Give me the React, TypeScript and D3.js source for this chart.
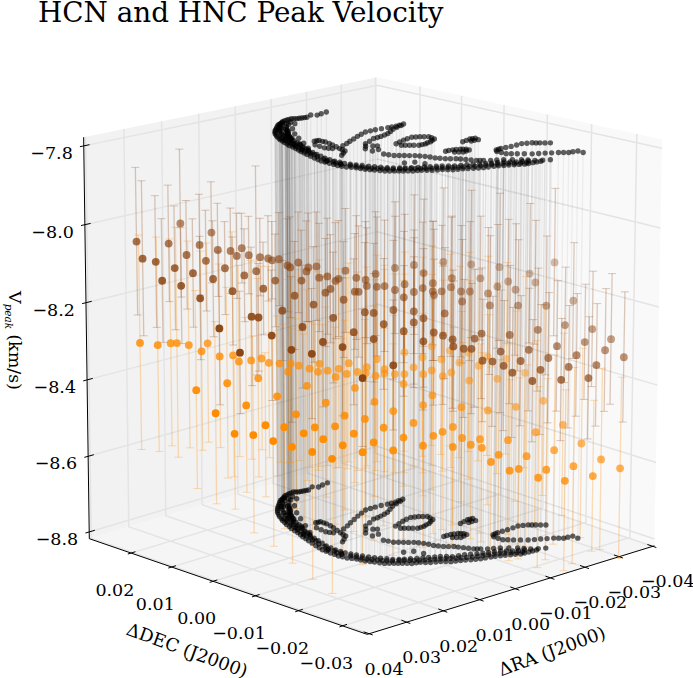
import { useRef, useEffect } from 'react'
import * as d3 from 'd3'

const raTicks = [0.04, 0.03, 0.02, 0.01, 0, -0.01, -0.02, -0.03, -0.04]
const decTicks = [0.02, 0.01, 0, -0.01, -0.02, -0.03]
const vTicks = [-7.8, -8.0, -8.2, -8.4, -8.6, -8.8]

const vTop = -7.8
const vBottom = -8.8

// [dRA, dDEC] of the black positions, drawn on both velocity planes
const blackPoints: number[][] = [
  [-.0150,.0214],[-.0132,.0211],[-.0117,.0208],[-.0108,.0216],[-.0088,.0208],[-.0076,.0210],[-.0064,.0212],[-.0056,.0218],
  [-.0041,.0216],[-.0026,.0213],[-.0009,.0204],[.0003,.0199],[.0023,.0185],[.0043,.0171],[.0061,.0155],[.0076,.0137],
  [.0089,.0118],[.0100,.0098],[.0111,.0077],[.0119,.0054],[.0129,.0033],[.0138,.0011],[.0149,-.0016],[.0156,-.0038],
  [.0158,-.0059],[.0159,-.0079],[.0155,-.0096],[.0146,-.0111],[.0142,-.0128],[.0133,-.0142],[.0124,-.0158],[.0110,-.0168],
  [.0098,-.0178],[.0085,-.0189],[.0068,-.0195],[.0054,-.0207],[.0035,-.0215],[.0021,-.0227],[.0002,-.0234],[-.0016,-.0243],
  [-.0034,-.0251],[-.0057,-.0256],[-.0076,-.0263],[-.0095,-.0271],[-.0113,-.0280],[-.0134,-.0282],[-.0154,-.0284],
  [-.0082,.0209],[-.0070,.0211],[-.0060,.0215],[-.0048,.0217],[-.0033,.0214],[-.0017,.0208],[-.0003,.0201],[.0013,.0192],
  [.0033,.0178],[.0052,.0163],[.0068,.0146],[.0082,.0127],[.0094,.0108],[.0105,.0087],[.0115,.0065],[.0124,.0043],
  [.0133,.0022],[.0143,-.0002],[.0152,-.0027],[.0157,-.0048],[.0158,-.0069],[.0157,-.0087],[.0150,-.0103],[.0144,-.0119],
  [.0137,-.0135],[.0128,-.0150],[.0117,-.0163],[.0104,-.0173],[.0091,-.0183],[.0076,-.0192],[.0061,-.0201],[.0044,-.0211],
  [.0028,-.0221],[.0011,-.0230],[-.0007,-.0238],[-.0025,-.0247],[-.0045,-.0253],[-.0066,-.0259],[-.0085,-.0267],[-.0104,-.0275],
  [-.0123,-.0281],[-.0144,-.0283],
  [-.0033,.0200],[0,.0181],[.0026,.0157],[.0051,.0131],[.0069,.0109],[.0083,.0083],[.0100,.0053],[.0114,.0028],
  [.0124,0],[.0134,-.0028],[.0138,-.0054],[.0137,-.0076],[.0129,-.0096],[.0120,-.0117],[.0108,-.0135],[.0095,-.0153],
  [.0078,-.0166],[.0056,-.0177],[.0035,-.0187],[.0014,-.0197],[-.0003,-.0211],[-.0029,-.0218],[-.0051,-.0229],[-.0072,-.0239],
  [-.0098,-.0246],[-.0115,-.0260],[-.0137,-.0270],
  [-.0016,.0190],[.0013,.0169],[.0038,.0144],[.0060,.0120],[.0076,.0096],[.0091,.0068],[.0107,.0040],[.0119,.0014],
  [.0129,-.0014],[.0136,-.0041],[.0137,-.0065],[.0133,-.0086],[.0124,-.0106],[.0114,-.0126],[.0101,-.0144],[.0086,-.0160],
  [.0067,-.0171],[.0045,-.0182],[.0024,-.0192],[.0005,-.0204],[-.0016,-.0215],[-.0040,-.0223],[-.0062,-.0234],[-.0085,-.0242],
  [-.0106,-.0253],[-.0126,-.0265],
  [.0150,-.0045],[.0148,-.0065],[.0148,-.0077],[.0137,-.0103],[.0131,-.0122],[.0120,-.0138],[.0109,-.0151],[.0091,-.0164],
  [.0075,-.0176],[.0060,-.0186],[.0043,-.0197],[.0025,-.0206],[.0008,-.0216],[-.0010,-.0225],[-.0030,-.0235],[-.0052,-.0242],
  [-.0075,-.0250],[-.0095,-.0258],[-.0115,-.0270],
  [.0143,-.0055],[.0143,-.0072],[.0141,-.0093],[.0134,-.0113],[.0126,-.0130],[.0115,-.0145],[.0102,-.0158],[.0084,-.0170],
  [.0068,-.0181],[.0052,-.0192],[.0034,-.0201],[.0016,-.0211],[-.0001,-.0221],[-.0020,-.0230],[-.0041,-.0239],[-.0063,-.0246],
  [-.0085,-.0254],[-.0105,-.0264],[-.0125,-.0275],
  [-.0003,.0194],[.0026,.0171],[.0052,.0147],[.0073,.0119],[.0084,.0100],[.0099,.0075],[.0115,.0044],[.0128,.0010],
  [-.0030,.0187],[.0005,.0162],[.0033,.0132],[.0054,.0104],[.0077,.0072],
  [-.0015,.0205],[.0010,.0188],[.0036,.0167],[.0056,.0145],[.0080,.0115],[.0092,.0089],[.0106,.0066],[.0121,.0031],
  [-.0018,.0197],[.0018,.0168],[.0043,.0140],[.0064,.0112],[.0086,.0074],[.0100,.0041],
  [.0040,.0148],[.0047,.0139],[.0060,.0130],[.0065,.0122],[.0072,.0110],[.0078,.0100],[.0090,.0082],[.0095,.0065],
  [.0105,.0050],[.0110,.0033],[.0022,.0160],[.0030,.0150],[.0015,.0180],[.0028,.0175],[.0042,.0160],[.0056,.0125],
  [.0062,.0135],[.0078,.0124],[.0086,.0108],[.0094,.0092],[.0102,.0076],[.0109,.0058],[.0118,.0040],[.0122,.0020],
  [.0128,.0002],[.0136,-.0012],[.0140,-.0030],[.0144,-.0042],
  [.0049,.0071],[.0038,.0069],[.0038,.0054],[.0045,.0031],[.0057,.0004],[.0063,-.0014],[.0093,-.0032],[.0070,.0051],[.0074,.0025],[.0067,.0012],
  [.0043,.0070],[.0038,.0061],[.0041,.0042],[.0051,.0017],[.0060,-.0005],[.0078,-.0023],[.0072,.0038],[.0071,.0018],
  [.0035,.0015],[-.0002,.0030],[-.0043,.0047],[-.0082,.0061],[-.0110,.0061],[-.0142,.0058],[-.0163,.0056],[-.0188,.0059],
  [.0016,.0022],[-.0022,.0038],[-.0062,.0054],[-.0096,.0061],[-.0126,.0060],[-.0152,.0057],[-.0175,.0058],
  [.0021,-.0026],[-.0010,0],[-.0053,.0017],[-.0077,.0020],[-.0105,.0027],[-.0140,.0044],[-.0175,.0054],[-.0007,-.0020],[-.0014,-.0025],[.0024,-.0045],[.0007,-.0045],
  [.0005,-.0013],[-.0031,.0008],[-.0065,.0018],[-.0091,.0023],[-.0122,.0035],[-.0157,.0049],
  [.0026,-.0073],[.0020,-.0092],[.0006,-.0104],[-.0009,-.0116],[-.0019,-.0131],[-.0024,-.0150],[-.0034,-.0165],[-.0049,-.0177],[-.0058,-.0192],[-.0068,-.0208],[-.0078,-.0216],
  [.0023,-.0082],[.0013,-.0098],[-.0001,-.0110],[-.0014,-.0123],[-.0022,-.0140],[-.0029,-.0157],[-.0041,-.0171],[-.0053,-.0184],[-.0063,-.0200],[-.0073,-.0212],
  [.0049,-.0140],[.0030,-.0148],[.0025,-.0167],
  [-.0054,-.0035],[-.0087,-.0025],[-.0116,-.0020],[-.0132,-.0026],[-.0145,-.0036],[-.0139,-.0054],[-.0116,-.0064],[-.0095,-.0069],[-.0077,-.0069],[-.0064,-.0058],[-.0052,-.0049],
  [-.0070,-.0030],[-.0101,-.0022],[-.0124,-.0023],[-.0138,-.0031],[-.0142,-.0045],[-.0127,-.0059],[-.0105,-.0066],[-.0086,-.0069],[-.0070,-.0063],[-.0058,-.0053],
  [-.0162,-.0101],[-.0190,-.0095],[-.0203,-.0097],[-.0198,-.0108],[-.0179,-.0107],[-.0176,-.0098],[-.0196,-.0096],[-.0188,-.0107],
  [-.0079,-.0129],[-.0098,-.0130],[-.0113,-.0135],[-.0121,-.0142],[-.0121,-.0149],[-.0099,-.0153],[-.0087,-.0143],
  [-.0088,-.0129],[-.0105,-.0132],[-.0117,-.0138],[-.0110,-.0151],[-.0093,-.0148],
  [-.0159,-.0180],[-.0175,-.0178],[-.0203,-.0179],[-.0236,-.0177],[-.0256,-.0185],[-.0267,-.0194],[-.0282,-.0206],
  [-.0167,-.0179],[-.0189,-.0178],[-.0220,-.0178],[-.0246,-.0181],[-.0261,-.0190],[-.0274,-.0200],
  [-.0151,-.0188],[-.0151,-.0209],[-.0166,-.0222],[-.0187,-.0239],[-.0210,-.0250],[-.0233,-.0262],[-.0247,-.0274],[-.0270,-.0277],[-.0268,-.0290],
  [-.0151,-.0198],[-.0158,-.0215],[-.0176,-.0230],[-.0198,-.0245],[-.0221,-.0256],[-.0240,-.0268],[-.0258,-.0275],
  [-.0088,-.0224],[-.0111,-.0235],[-.0136,-.0255],[-.0150,-.0274],[-.0176,-.0288],
  [-.0099,-.0229],[-.0123,-.0245],[-.0143,-.0264],[-.0163,-.0281],
]

// [dRA, dDEC, Vpeak, error]
const hcnPoints: number[][] = [
  [.0337,.0248,-8.044,.19],[.0329,.0241,-8.088,.2],[.0310,.0226,-8.096,.17],[.0301,.0219,-8.145,.16],[.0291,.0211,-8.049,.15],
  [.0283,.0204,-8.112,.16],[.0274,.0197,-7.997,.19],[.0274,.0197,-8.158,.15],[.0266,.0190,-8.078,.14],[.0257,.0183,-8.125,.14],
  [.0247,.0175,-8.052,.13],[.0238,.0168,-8.093,.13],[.0247,.0175,-8.190,.16],[.0230,.0161,-8.020,.13],[.0228,.0160,-8.140,.15],
  [.0221,.0154,-8.065,.12],[.0211,.0146,-8.112,.12],[.0203,.0139,-8.067,.11],[.0201,.0137,-8.171,.14],[.0220,.0153,-8.268,.2],
  [.0194,.0132,-8.080,.11],[.0187,.0126,-8.060,.09],[.0184,.0123,-8.130,.12],[.0177,.0118,-8.078,.1],[.0167,.0109,-8.119,.27],
  [.0157,.0101,-8.164,.12],[.0174,.0115,-8.237,.18],[.0164,.0107,-8.239,.14],[.0161,.0105,-8.083,.1],[.0150,.0095,-8.086,.11],
  [.0144,.0091,-8.091,.1],[.0134,.0083,-8.088,.12],[.0140,.0087,-8.143,.12],[.0145,.0092,-8.286,.17],[.0130,.0079,-8.221,.13],
  [.0122,.0073,-8.104,.12],[.0118,.0070,-8.109,.13],[.0107,.0060,-8.096,.13],[.0112,.0065,-8.182,.14],[.0102,.0057,-8.143,.13],
  [.0095,.0051,-8.119,.13],[.0092,.0049,-8.109,.14],[.0081,.0039,-8.106,.14],[.0077,.0036,-8.135,.14],[.0065,.0027,-8.132,.15],
  [.0054,.0017,-8.143,.15],[.0049,.0014,-8.138,.15],[.0068,.0029,-8.174,.14],[.0061,.0023,-8.164,.14],[.0039,.0006,-8.117,.16],
  [.0042,.0008,-8.192,.15],[.0085,.0043,-8.205,.15],[.0057,.0020,-8.239,.17],[.0101,.0056,-8.263,.16],[.0072,.0032,-8.302,.17],
  [.0117,.0069,-8.323,.19],[.0088,.0045,-8.333,.17],[.0044,.0009,-8.315,.18],[.0191,.0129,-8.331,.16],
  [.0024,-.0007,-8.135,.16],[.0011,-.0018,-8.140,.15],[.0021,-.0010,-8.171,.17],[.0026,-.0005,-8.171,.15],[.0009,-.0019,-8.156,.15],
  [-.0004,-.0029,-8.125,.16],[-.0005,-.0031,-8.158,.18],[-.0016,-.0040,-8.156,.17],[-.0031,-.0052,-8.109,.17],[-.0031,-.0052,-8.166,.19],
  [-.0045,-.0063,-8.151,.18],[-.0044,-.0062,-8.185,.17],[-.0058,-.0074,-8.101,.18],[-.0058,-.0074,-8.171,.16],[-.0072,-.0085,-8.122,.19],
  [-.0071,-.0084,-8.161,.17],[-.0085,-.0096,-8.148,.16],[-.0085,-.0096,-8.169,.18],[-.0087,-.0097,-8.179,.17],[-.0100,-.0108,-8.093,.19],
  [-.0098,-.0106,-8.169,.17],[-.0112,-.0118,-8.135,.16],[-.0111,-.0117,-8.158,.18],[-.0140,-.0140,-8.099,.19],[-.0153,-.0151,-8.135,.16],
  [-.0125,-.0129,-8.169,.17],[-.0138,-.0139,-8.169,.18],[-.0127,-.0130,-8.195,.16],[-.0164,-.0160,-8.174,.17],[-.0177,-.0171,-8.156,.16],
  [-.0167,-.0162,-8.205,.18],[-.0180,-.0173,-8.106,.19],[-.0193,-.0183,-8.143,.16],[-.0203,-.0192,-8.164,.17],[-.0207,-.0195,-8.205,.17],
  [-.0223,-.0208,-8.122,.18],[-.0231,-.0215,-8.145,.16],[-.0247,-.0228,-8.205,.18],[-.0258,-.0237,-8.093,.19],[-.0286,-.0259,-8.192,.15],
  [-.0274,-.0250,-8.255,.15],[-.0236,-.0218,-8.268,.16],[-.0313,-.0282,-8.265,.15],[-.0303,-.0273,-8.299,.15],[-.0340,-.0304,-8.291,.17],
  [-.0263,-.0241,-8.310,.17],[-.0332,-.0297,-8.320,.16],[-.0223,-.0208,-8.320,.16],[-.0291,-.0264,-8.333,.16],[-.0359,-.0319,-8.338,.17],
  [-.0320,-.0287,-8.359,.16],[-.0251,-.0231,-8.341,.17],[-.0280,-.0255,-8.364,.16],[-.0211,-.0199,-8.349,.17],[-.0195,-.0186,-8.281,.18],
  [-.0155,-.0153,-8.278,.17],[-.0183,-.0175,-8.325,.16],[-.0240,-.0222,-8.372,.17],[-.0309,-.0278,-8.393,.16],[-.0270,-.0246,-8.398,.16],
  [-.0200,-.0189,-8.380,.17],[-.0228,-.0213,-8.401,.16],[-.0187,-.0179,-8.362,.17],[-.0171,-.0166,-8.351,.17],[-.0157,-.0154,-8.349,.16],
  [-.0145,-.0145,-8.291,.18],[-.0141,-.0141,-8.318,.17],[-.0130,-.0132,-8.318,.18],[-.0115,-.0120,-8.312,.17],[-.0114,-.0119,-8.294,.18],
  [-.0100,-.0108,-8.284,.18],[-.0087,-.0097,-8.276,.19],[-.0102,-.0110,-8.226,.17],[-.0072,-.0085,-8.239,.18],[-.0058,-.0074,-8.221,.19],
  [-.0058,-.0074,-8.250,.17],[-.0072,-.0085,-8.299,.18],[-.0044,-.0062,-8.273,.17],[-.0029,-.0050,-8.218,.18],[-.0015,-.0039,-8.255,.17],
  [-.0001,-.0027,-8.226,.18],[.0012,-.0017,-8.224,.18],[.0028,-.0004,-8.276,.19],[-.0001,-.0027,-8.294,.17],[-.0029,-.0050,-8.362,.17],[.0015,-.0014,-8.396,.18],
]

const hncPoints: number[][] = [
  [.0334,.0246,-8.307,.28],[.0309,.0225,-8.312,.28],[.0290,.0210,-8.307,.27],[.0281,.0203,-8.307,.3],[.0264,.0189,-8.312,.27],
  [.0237,.0167,-8.307,.26],[.0246,.0174,-8.328,.26],[.0220,.0153,-8.341,.24],[.0201,.0137,-8.338,.32],[.0193,.0130,-8.354,.25],
  [.0175,.0116,-8.351,.26],[.0160,.0104,-8.346,.24],[.0150,.0095,-8.357,.25],[.0134,.0083,-8.359,.26],[.0118,.0070,-8.359,.26],
  [.0107,.0060,-8.364,.25],[.0091,.0048,-8.372,.26],[.0077,.0036,-8.359,.27],[.0122,.0073,-8.380,.24],[.0079,.0038,-8.380,.26],
  [.0065,.0027,-8.377,.25],[.0049,.0014,-8.372,.26],[.0035,.0002,-8.357,.26],[.0054,.0017,-8.393,.24],[.0038,.0004,-8.385,.25],
  [.0022,-.0008,-8.380,.26],[.0009,-.0019,-8.367,.26],[.0011,-.0018,-8.383,.25],[-.0004,-.0029,-8.390,.25],[-.0005,-.0031,-8.346,.27],
  [.0254,.0181,-8.430,.26],[.0210,.0144,-8.411,.25],[.0165,.0108,-8.398,.26],[.0138,.0086,-8.445,.21],[.0095,.0051,-8.417,.25],
  [.0026,-.0005,-8.422,.25],[.0068,.0029,-8.461,.25],[-.0002,-.0028,-8.458,.25],[.0227,.0158,-8.490,.24],[.0183,.0122,-8.469,.23],
  [.0111,.0064,-8.492,.25],[.0041,.0007,-8.495,.25],[.0012,-.0017,-8.503,.26],[.0155,.0100,-8.521,.19],[.0128,.0078,-8.526,.27],
  [.0084,.0042,-8.526,.27],[.0055,.0018,-8.523,.26],[.0200,.0136,-8.544,.2],[.0173,.0114,-8.547,.26],[.0100,.0055,-8.542,.26],
  [.0028,-.0004,-8.542,.26],[.0144,.0091,-8.563,.28],[.0072,.0032,-8.557,.3],[-.0001,-.0027,-8.565,.26],[.0117,.0069,-8.578,.31],
  [.0044,.0009,-8.573,.28],[.0088,.0045,-8.591,.34],[.0015,-.0014,-8.591,.3],[.0059,.0022,-8.609,.36],
  [-.0016,-.0040,-8.383,.27],[-.0031,-.0052,-8.385,.26],[-.0045,-.0063,-8.385,.26],[-.0072,-.0085,-8.385,.26],[-.0100,-.0108,-8.390,.25],
  [-.0138,-.0139,-8.401,.26],[-.0178,-.0172,-8.396,.25],[-.0044,-.0062,-8.411,.27],[-.0244,-.0226,-8.453,.25],[-.0085,-.0096,-8.440,.25],
  [-.0029,-.0050,-8.482,.25],[-.0072,-.0085,-8.466,.24],[-.0127,-.0130,-8.471,.25],[-.0165,-.0161,-8.479,.25],[-.0205,-.0194,-8.469,.25],
  [-.0273,-.0249,-8.516,.24],[-.0058,-.0074,-8.513,.25],[-.0015,-.0039,-8.526,.26],[-.0115,-.0120,-8.523,.26],[-.0234,-.0217,-8.536,.24],
  [-.0100,-.0108,-8.536,.26],[-.0087,-.0097,-8.547,.26],[-.0044,-.0062,-8.552,.27],[-.0128,-.0131,-8.552,.25],[-.0154,-.0152,-8.555,.25],
  [-.0194,-.0185,-8.557,.25],[-.0072,-.0085,-8.573,.27],[-.0029,-.0050,-8.586,.28],[-.0115,-.0120,-8.576,.26],[-.0141,-.0141,-8.570,.25],
  [-.0157,-.0154,-8.578,.25],[-.0300,-.0271,-8.565,.25],[-.0261,-.0239,-8.583,.25],[-.0181,-.0174,-8.596,.25],[-.0221,-.0207,-8.599,.24],
  [-.0170,-.0165,-8.615,.25],[-.0329,-.0294,-8.607,.24],[-.0197,-.0187,-8.638,.24],[-.0210,-.0198,-8.633,.24],[-.0250,-.0230,-8.635,.24],
  [-.0289,-.0262,-8.625,.26],[-.0356,-.0317,-8.630,.24],[-.0238,-.0221,-8.656,.24],[-.0317,-.0285,-8.651,.2],[-.0277,-.0252,-8.664,.24],
  [-.0084,-.0095,-8.312,.26],[-.0110,-.0116,-8.323,.25],[-.0137,-.0138,-8.328,.26],[-.0045,-.0063,-8.328,.26],[-.0071,-.0084,-8.341,.26],
  [-.0098,-.0106,-8.346,.25],[-.0124,-.0127,-8.354,.25],[-.0151,-.0150,-8.362,.25],[-.0164,-.0160,-8.338,.26],[-.0191,-.0182,-8.344,.25],
  [-.0058,-.0074,-8.367,.26],[-.0084,-.0095,-8.375,.25],[-.0112,-.0118,-8.380,.25],[-.0016,-.0040,-8.372,.27],[-.0218,-.0204,-8.380,.25],
]

const xNorm = d3.scaleLinear().domain([0.0405, -0.0405]).range([0.5, -0.5])
const yNorm = d3.scaleLinear().domain([-0.0355, 0.0305]).range([-0.5, 0.5])
const zNorm = d3.scaleLinear().domain([-8.818, -7.778]).range([-0.5, 0.5])

const raLim = xNorm.domain()
const decLim = yNorm.domain()
const vLim = zNorm.domain()

const elev = (15.5 * Math.PI) / 180
const azim = (-46 * Math.PI) / 180
const dist = 10
const sinE = Math.sin(elev), cosE = Math.cos(elev)
const sinA = Math.sin(azim), cosA = Math.cos(azim)

// perspective view of the unit box, same idea as mplot3d
function project(ra: number, dec: number, v: number): [number, number] {
  const x = xNorm(ra), y = yNorm(dec), z = zNorm(v)
  const depth = cosE * cosA * x + cosE * sinA * y + sinE * z
  const f = 1 / (1 - depth / dist)
  const right = sinA * x - cosA * y
  const up = -sinE * cosA * x - sinE * sinA * y + cosE * z
  return [372.5 + 400 * f * right, 340.5 - 414 * f * up]
}

// the drawn box sits slightly wider and drops a little toward its lower corners
function projectFrame(ra: number, dec: number, v: number): [number, number] {
  const [px, py] = project(ra, dec, v)
  const low = Math.max(0, (py - 140) / 400)
  const side = (px - 372.5) / 283
  const drop = (side > 0 ? 7 * side : -3 * side) * low
  const spread = side < 0 ? 2 * side * low : 0
  return [372.5 + (px - 372.5) * 1.009 + spread, py + drop]
}

const fmt = (d: number) => d.toFixed(2).replace('-', '\u2212')
const serif = "'DejaVu Serif', serif"

export default function App() {
  const svgRef = useRef<SVGSVGElement | null>(null)

  useEffect(() => {
    if (!svgRef.current) return
    const svg = d3.select(svgRef.current)
    svg.selectAll('*').remove()

    const path3 = (pts: [number, number, number][]) => d3.line()(pts.map(p => project(p[0], p[1], p[2])))
    const frame3 = (pts: [number, number, number][]) => d3.line()(pts.map(p => projectFrame(p[0], p[1], p[2])))

    const [raFront, raBack] = raLim
    const [decFront, decLeft] = decLim
    const [vLow, vHigh] = vLim

    // Panes
    const pane = (pts: [number, number, number][], fill: string) =>
      svg.append('path').attr('d', frame3(pts) + 'Z').attr('fill', fill)
    pane([[raFront, decLeft, vLow], [raBack, decLeft, vLow], [raBack, decLeft, vHigh], [raFront, decLeft, vHigh]], '#f2f2f2')
    pane([[raBack, decLeft, vLow], [raBack, decFront, vLow], [raBack, decFront, vHigh], [raBack, decLeft, vHigh]], '#f9f9f9')
    pane([[raFront, decLeft, vLow], [raFront, decFront, vLow], [raBack, decFront, vLow], [raBack, decLeft, vLow]], '#f5f5f5')

    // Grid
    const grid = svg.append('g').attr('fill', 'none').attr('stroke', '#e4e4e4').attr('stroke-width', 1.5)
    raTicks.forEach(t => grid.append('path').attr('d', frame3([[t, decFront, vLow], [t, decLeft, vLow], [t, decLeft, vHigh]])))
    decTicks.forEach(t => grid.append('path').attr('d', frame3([[raFront, t, vLow], [raBack, t, vLow], [raBack, t, vHigh]])))
    vTicks.forEach(t => grid.append('path').attr('d', frame3([[raFront, decLeft, t], [raBack, decLeft, t], [raBack, decFront, t]])))

    // Axes and ticks
    const axes = svg.append('g').attr('fill', 'none').attr('stroke', '#000').attr('stroke-width', 1)
    axes.append('path').attr('d', frame3([[raFront, decLeft, vHigh], [raFront, decLeft, vLow], [raFront, decFront, vLow], [raBack, decFront, vLow]]))
    const label = svg.append('g').attr('font-family', serif).attr('font-size', 17.5).attr('fill', '#000')
    raTicks.forEach(t => {
      axes.append('path').attr('d', frame3([[t, decFront + 0.0012, vLow], [t, decFront - 0.0008, vLow]]))
      const [px, py] = projectFrame(t, decFront, vLow)
      label.append('text').attr('x', px + 15).attr('y', py + 41).attr('text-anchor', 'middle').text(fmt(t))
    })
    decTicks.forEach(t => {
      axes.append('path').attr('d', frame3([[raFront - 0.0012, t, vLow], [raFront + 0.0008, t, vLow]]))
      const [px, py] = projectFrame(raFront, t, vLow)
      label.append('text').attr('x', px - 16).attr('y', py + 43).attr('text-anchor', 'middle').text(fmt(t))
    })
    vTicks.forEach(t => {
      axes.append('path').attr('d', frame3([[raFront - 0.0015, decLeft, t], [raFront + 0.001, decLeft, t]]))
      const [px, py] = projectFrame(raFront, decLeft, t)
      label.append('text').attr('x', px - 11).attr('y', py + 13).attr('text-anchor', 'end').text(t.toFixed(1).replace('-', '\u2212'))
    })

    // Titles
    svg.append('text').attr('x', 38).attr('y', 22).attr('font-family', serif).attr('font-size', 27.8).text('HCN and HNC Peak Velocity')
    const axisLabel = svg.append('g').attr('font-family', serif).attr('font-size', 18).attr('text-anchor', 'middle')
    axisLabel.append('text').attr('transform', 'translate(554,657) rotate(-20)').text('\u0394RA (J2000)')
    axisLabel.append('text').attr('transform', 'translate(185,656) rotate(20)').text('\u0394DEC (J2000)')
    const vLabel = svg.append('text').attr('transform', 'translate(9,291) rotate(90)').attr('font-family', serif).attr('font-size', 17.5)
    vLabel.append('tspan').text('V')
    vLabel.append('tspan').attr('font-size', 10.5).attr('font-style', 'italic').attr('dy', 4).text('peak')
    vLabel.append('tspan').attr('dy', -4).attr('dx', 5).text('(km/s)')

    // Vertical lines joining the two black planes
    svg.append('g').attr('stroke', '#000').attr('stroke-width', 1.4).attr('stroke-opacity', 0.05)
      .selectAll('path').data(blackPoints).join('path')
      .attr('d', d => path3([[d[0], d[1], vTop], [d[0], d[1], vBottom]]))

    // Error bars
    const errorBars = (points: number[][], color: string) => {
      const g = svg.append('g').attr('stroke', color).attr('stroke-width', 1.3).attr('stroke-opacity', 0.28).attr('fill', 'none')
      points.forEach(d => {
        const [x0, y0] = project(d[0], d[1], d[2] + d[3])
        const [x1, y1] = project(d[0], d[1], d[2] - d[3])
        g.append('path').attr('d', `M${x0},${y0}L${x1},${y1}`)
        g.append('path').attr('d', `M${x0 - 4},${y0}H${x0 + 4}M${x1 - 4},${y1}H${x1 + 4}`).attr('stroke-width', 1)
      })
    }
    errorBars(hncPoints, '#ff8c00')
    errorBars(hcnPoints, '#8b4513')

    // Black planes
    ;[vTop, vBottom].forEach(plane => {
      svg.append('g').selectAll('circle').data(blackPoints).join('circle')
        .attr('cx', d => project(d[0], d[1], plane)[0])
        .attr('cy', d => project(d[0], d[1], plane)[1])
        .attr('r', 2.7).attr('fill', '#000').attr('fill-opacity', 0.62)
    })

    // Peak velocities, faded toward the far side of the cloud
    const scatter = (points: number[][], color: string, y0: number, slope: number, base: number) => {
      svg.append('g').selectAll('circle').data(points).join('circle')
        .attr('cx', d => project(d[0], d[1], d[2])[0])
        .attr('cy', d => project(d[0], d[1], d[2])[1])
        .attr('r', 3.9).attr('fill', color)
        .attr('fill-opacity', d => {
          const [px, py] = project(d[0], d[1], d[2])
          const w = py - (y0 + slope * px)
          return Math.max(0.35, Math.min(1, base + 0.004 * w - 0.0004 * (px - 137)))
        })
    }
    scatter(hncPoints, '#ff8c00', 308.3, 0.257, 0.85)
    scatter(hcnPoints, '#8b4513', 211.2, 0.232, 0.75)
  }, [])

  return (
    <svg ref={svgRef} width={693} height={678} viewBox="0 0 693 678"
      style={{ position: 'absolute', left: 0, top: 0, background: '#fff' }}>
    </svg>
  )
}
